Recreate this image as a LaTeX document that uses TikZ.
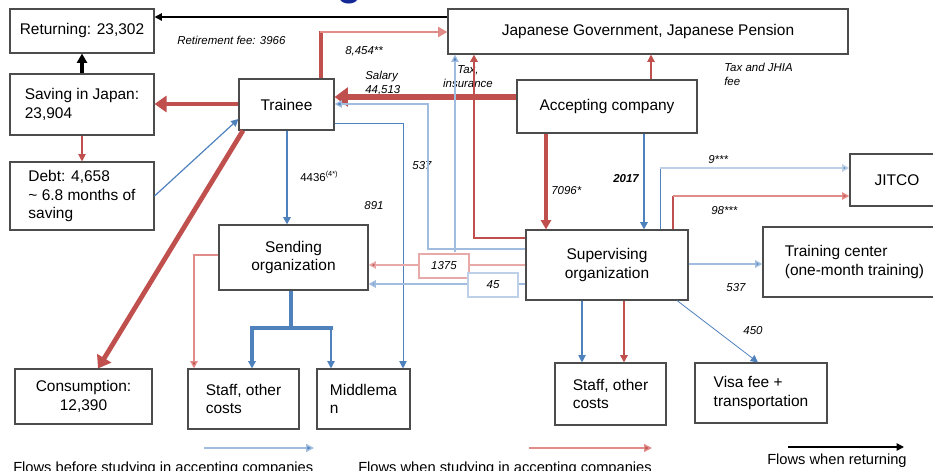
\documentclass[tikz,border=0pt]{standalone}
\usepackage{fontspec}
\setmainfont{Liberation Sans}
\usetikzlibrary{arrows.meta}
\definecolor{cr}{RGB}{192,80,77}
\definecolor{cb}{RGB}{79,129,189}
\definecolor{lr}{RGB}{226,140,138}
\definecolor{lb}{RGB}{160,188,222}
\definecolor{lbb}{RGB}{190,208,232}
\definecolor{lrb}{RGB}{232,170,168}
\definecolor{tb}{RGB}{20,40,150}
\begin{document}
\begin{tikzpicture}[x=0.75pt,y=-0.75pt,
  rect/.style n args={4}{minimum width={(#3-#1)*0.75pt},minimum height={(#4-#2)*0.75pt},
    at={({(#1+#3)/2},{(#2+#4)/2})}},
  box/.style={draw=black!70,line width=0.8pt,inner sep=0pt,align=center,
    font=\fontsize{11.6}{13.8}\selectfont},
  lab/.style={inner sep=0pt,font=\fontsize{8.6}{10.4}\selectfont\itshape},
  tipS/.style={-{Triangle[length=5.5pt,width=5.5pt]}},
  tipM/.style={-{Triangle[length=7pt,width=7.5pt]}},
  tipL/.style={-{Triangle[length=9pt,width=12pt]}},
  tipX/.style={-{Triangle[length=10pt,width=14pt]}},
  legtxt/.style={inner sep=0pt,anchor=base west,font=\fontsize{11}{13}\selectfont}
]
\useasboundingbox (0,0) rectangle (933,471);
\begin{scope}
\clip (0,0) rectangle (933,471);
\node[text=tb,font=\fontsize{30}{30}\selectfont\bfseries,anchor=base,inner sep=0] (title) at (350,-5) {g};

% boxes
\node[box,rect={10}{9}{154}{53}] (ret) {Returning: 23,302};
\node[box,rect={10}{74}{154}{135},align=left] (sav) {Saving in Japan:\\23,904};
\node[box,rect={10}{162}{154}{230},align=left] (debt) {Debt: 4,658\\\textasciitilde{} 6.8 months of\\saving};
\node[box,rect={239}{79}{334}{130}] (tr) {Trainee};
\node[box,rect={448}{9}{848}{54}] (gov) {Japanese Government, Japanese Pension};
\node[box,rect={517}{80}{697}{133}] (acc) {Accepting company};
\node[box,rect={850}{154}{944}{206}] (jit) {JITCO};
\node[box,rect={526}{230}{688}{300}] (sup) {Supervising\\organization};
\node[box,rect={763}{227}{946}{297},align=left] (trn) {Training center\\(one-month training)};
\node[box,rect={555}{363}{666}{425},align=left] (str) {Staff, other\\costs};
\node[box,rect={695}{363}{827}{423},align=left] (visa) {Visa fee +\\transportation};
\node[box,rect={219}{225}{368}{290}] (send) {Sending\\organization};
\node[box,rect={15}{369}{152}{424}] (cons) {Consumption:\\12,390};
\node[box,rect={188}{369}{299}{429},align=left] (stl) {Staff, other\\costs};
\node[box,rect={317}{369}{410}{429},align=left] (mid) {Middlema\\n};

% labels
\node[lab,anchor=west] (l1) at (177,40) {Retirement fee: 3966};
\node[lab,anchor=west] (l2) at (345,51) {8,454**};
\node[lab,anchor=west,align=left] (l3) at (365,83) {Salary\\44,513};
\node[lab,align=center] (l4) at (468,77) {Tax,\\insurance};
\node[lab,anchor=west,align=left] (l5) at (724,74) {Tax and JHIA\\fee};
\node[lab] (l6) at (422,166) {537};
\node[lab] (l7) at (374,206) {891};
\node[inner sep=0pt,anchor=west,font=\fontsize{8.6}{10}\selectfont] (l8) at (300,176) {4436\textsuperscript{\fontsize{5.5}{6}\selectfont(4*)}};
\node[lab,anchor=west] (l9) at (551,191) {7096*};
\node[lab,font=\fontsize{8.6}{10}\selectfont\bfseries\itshape] (l10) at (626,179) {2017};
\node[lab,anchor=west] (l11) at (708,160) {9***};
\node[lab,anchor=west] (l12) at (711,211) {98***};
\node[lab] (l13) at (736,288) {537};
\node[lab] (l14) at (753,331) {450};

% black returning
\draw[black,line width=1.2pt,tipS] (gov.west |- 0,17) -- (ret.east |- 0,17);
\draw[black,line width=2.4pt,tipM] (sav.north) -- (ret.south);

% trainee flows
\draw[cr,line width=3.6pt,tipL] (tr.west |- 0,104) -- (sav.east |- 0,104);
\draw[cr,line width=0.8pt,tipS] (sav.south) -- (debt.north);
\draw[cb,line width=0.9pt,tipS] (debt.east |- 0,196) -- (tr.west |- 0,119);
\draw[cr,line width=3.6pt,tipL] (243,0 |- tr.south) -- (98,0 |- cons.north);
\draw[cr,line width=2.6pt] (321,0 |- tr.north) -- (321,31);
\draw[lr,line width=1.8pt,tipM] (320,32) -- (gov.west |- 0,32);
\draw[cb,line width=1.5pt,tipS] (287,0 |- tr.south) -- (287,0 |- send.north);

% salary
\draw[cr,line width=4.8pt,tipX] (acc.west |- 0,97) -- (tr.east |- 0,97);

% supervising -> trainee (537)
\draw[lb,line width=0.9pt,-{Triangle[length=5.5pt,width=5.5pt,fill=cb]}] (sup.west |- 0,249) -- (428,249) -- (428,104) -- (tr.east |- 0,104);
% trainee -> middleman (891)
\draw[cb,line width=0.7pt,tipS] (tr.east |- 0,123) -- (403,123) -- (403,0 |- mid.north);
% tax insurance
\coordinate (tx) at (455,252);
\draw[lb,line width=0.9pt,-{Triangle[length=5.5pt,width=5.5pt,fill=cb]}] (tx) -- (455,0 |- gov.south);
% supervising -> gov red
\draw[cr,line width=1.6pt,tipS] (sup.west |- 0,238) -- (474,238) -- (474,0 |- gov.south);
% accepting -> gov
\draw[cr,line width=0.9pt,tipS] (651,0 |- acc.north) -- (651,0 |- gov.south);
% accepting -> supervising
\draw[cr,line width=2.6pt,tipM] (546,0 |- acc.south) -- (546,0 |- sup.north);
\draw[cb,line width=1.5pt,tipS] (644,0 |- acc.south) -- (644,0 |- sup.north);
% supervising -> JITCO
\draw[cb,line width=0.7pt] (660,0 |- sup.north) -- (660,168);
\draw[lbb,line width=1.2pt,-{Triangle[length=5.5pt,width=5.5pt,fill=cb]}] (660,168) -- (jit.west |- 0,168);
\draw[cr,line width=0.8pt] (673,0 |- sup.north) -- (673,196);
\draw[lr,line width=1.1pt,-{Triangle[length=5.5pt,width=5.5pt,fill=cr]}] (673,196) -- (jit.west |- 0,196);
% supervising -> training center, visa, staff
\draw[lb,line width=1.2pt,-{Triangle[length=5.5pt,width=5.5pt,fill=cb]}] (sup.east |- 0,264) -- (trn.west |- 0,264);
\draw[cb,line width=0.6pt,tipS] (677,0 |- sup.south) -- (758,0 |- visa.north);
\draw[cb,line width=0.8pt,tipS] (582,0 |- sup.south) -- (582,0 |- str.north);
\draw[cr,line width=1.9pt,tipS] (624,0 |- sup.south) -- (624,0 |- str.north);
% supervising -> sending
\draw[lrb,line width=1.1pt,-{Triangle[length=5.5pt,width=5.5pt,fill=cr]}] (sup.west |- 0,265) -- (send.east |- 0,265);
\draw[lb,line width=1.6pt,-{Triangle[length=5.5pt,width=5.5pt,fill=cb]}] (sup.west |- 0,284) -- (send.east |- 0,284);
\node[draw=lrb,fill=white,line width=0.8pt,inner sep=0pt,rect={419}{254}{469}{278},
  font=\fontsize{8.6}{10}\selectfont\itshape] (b1375) {1375};
\node[draw=lbb,fill=white,line width=0.8pt,inner sep=0pt,rect={468}{273}{518}{297},
  font=\fontsize{8.6}{10}\selectfont\itshape] (b45) {45};
% sending -> staff, middleman
\draw[lr,line width=1pt,-{Triangle[length=5.5pt,width=5.5pt,fill=cr]}] (send.west |- 0,255) -- (194,255) -- (194,0 |- stl.north);
\draw[cb,line width=2.4pt] (291,0 |- send.south) -- (291,328);
\draw[cb,line width=2.4pt,tipS] (333,328) -- (252,328) -- (252,0 |- stl.north);
\draw[cb,line width=0.9pt,tipS] (331,329) -- (331,0 |- mid.north);

% legend
\coordinate (a1) at (204,448); \coordinate (a2) at (314,448);
\draw[lb,line width=1.1pt,-{Triangle[length=6pt,width=6pt,fill=cb]}] (a1) -- (a2);
\coordinate (b1) at (529,448); \coordinate (b2) at (652,448);
\draw[lr,line width=1.1pt,-{Triangle[length=6pt,width=6pt,fill=cr]}] (b1) -- (b2);
\coordinate (c1) at (788,447); \coordinate (c2) at (904,447);
\draw[black,line width=1.1pt,tipS] (c1) -- (c2);
\node[legtxt] (t1) at (13,472) {Flows before studying in accepting companies};
\node[legtxt] (t2) at (358,472) {Flows when studying in accepting companies};
\node[legtxt] (t3) at (767,464) {Flows when returning};
\end{scope}
\end{tikzpicture}
\end{document}
